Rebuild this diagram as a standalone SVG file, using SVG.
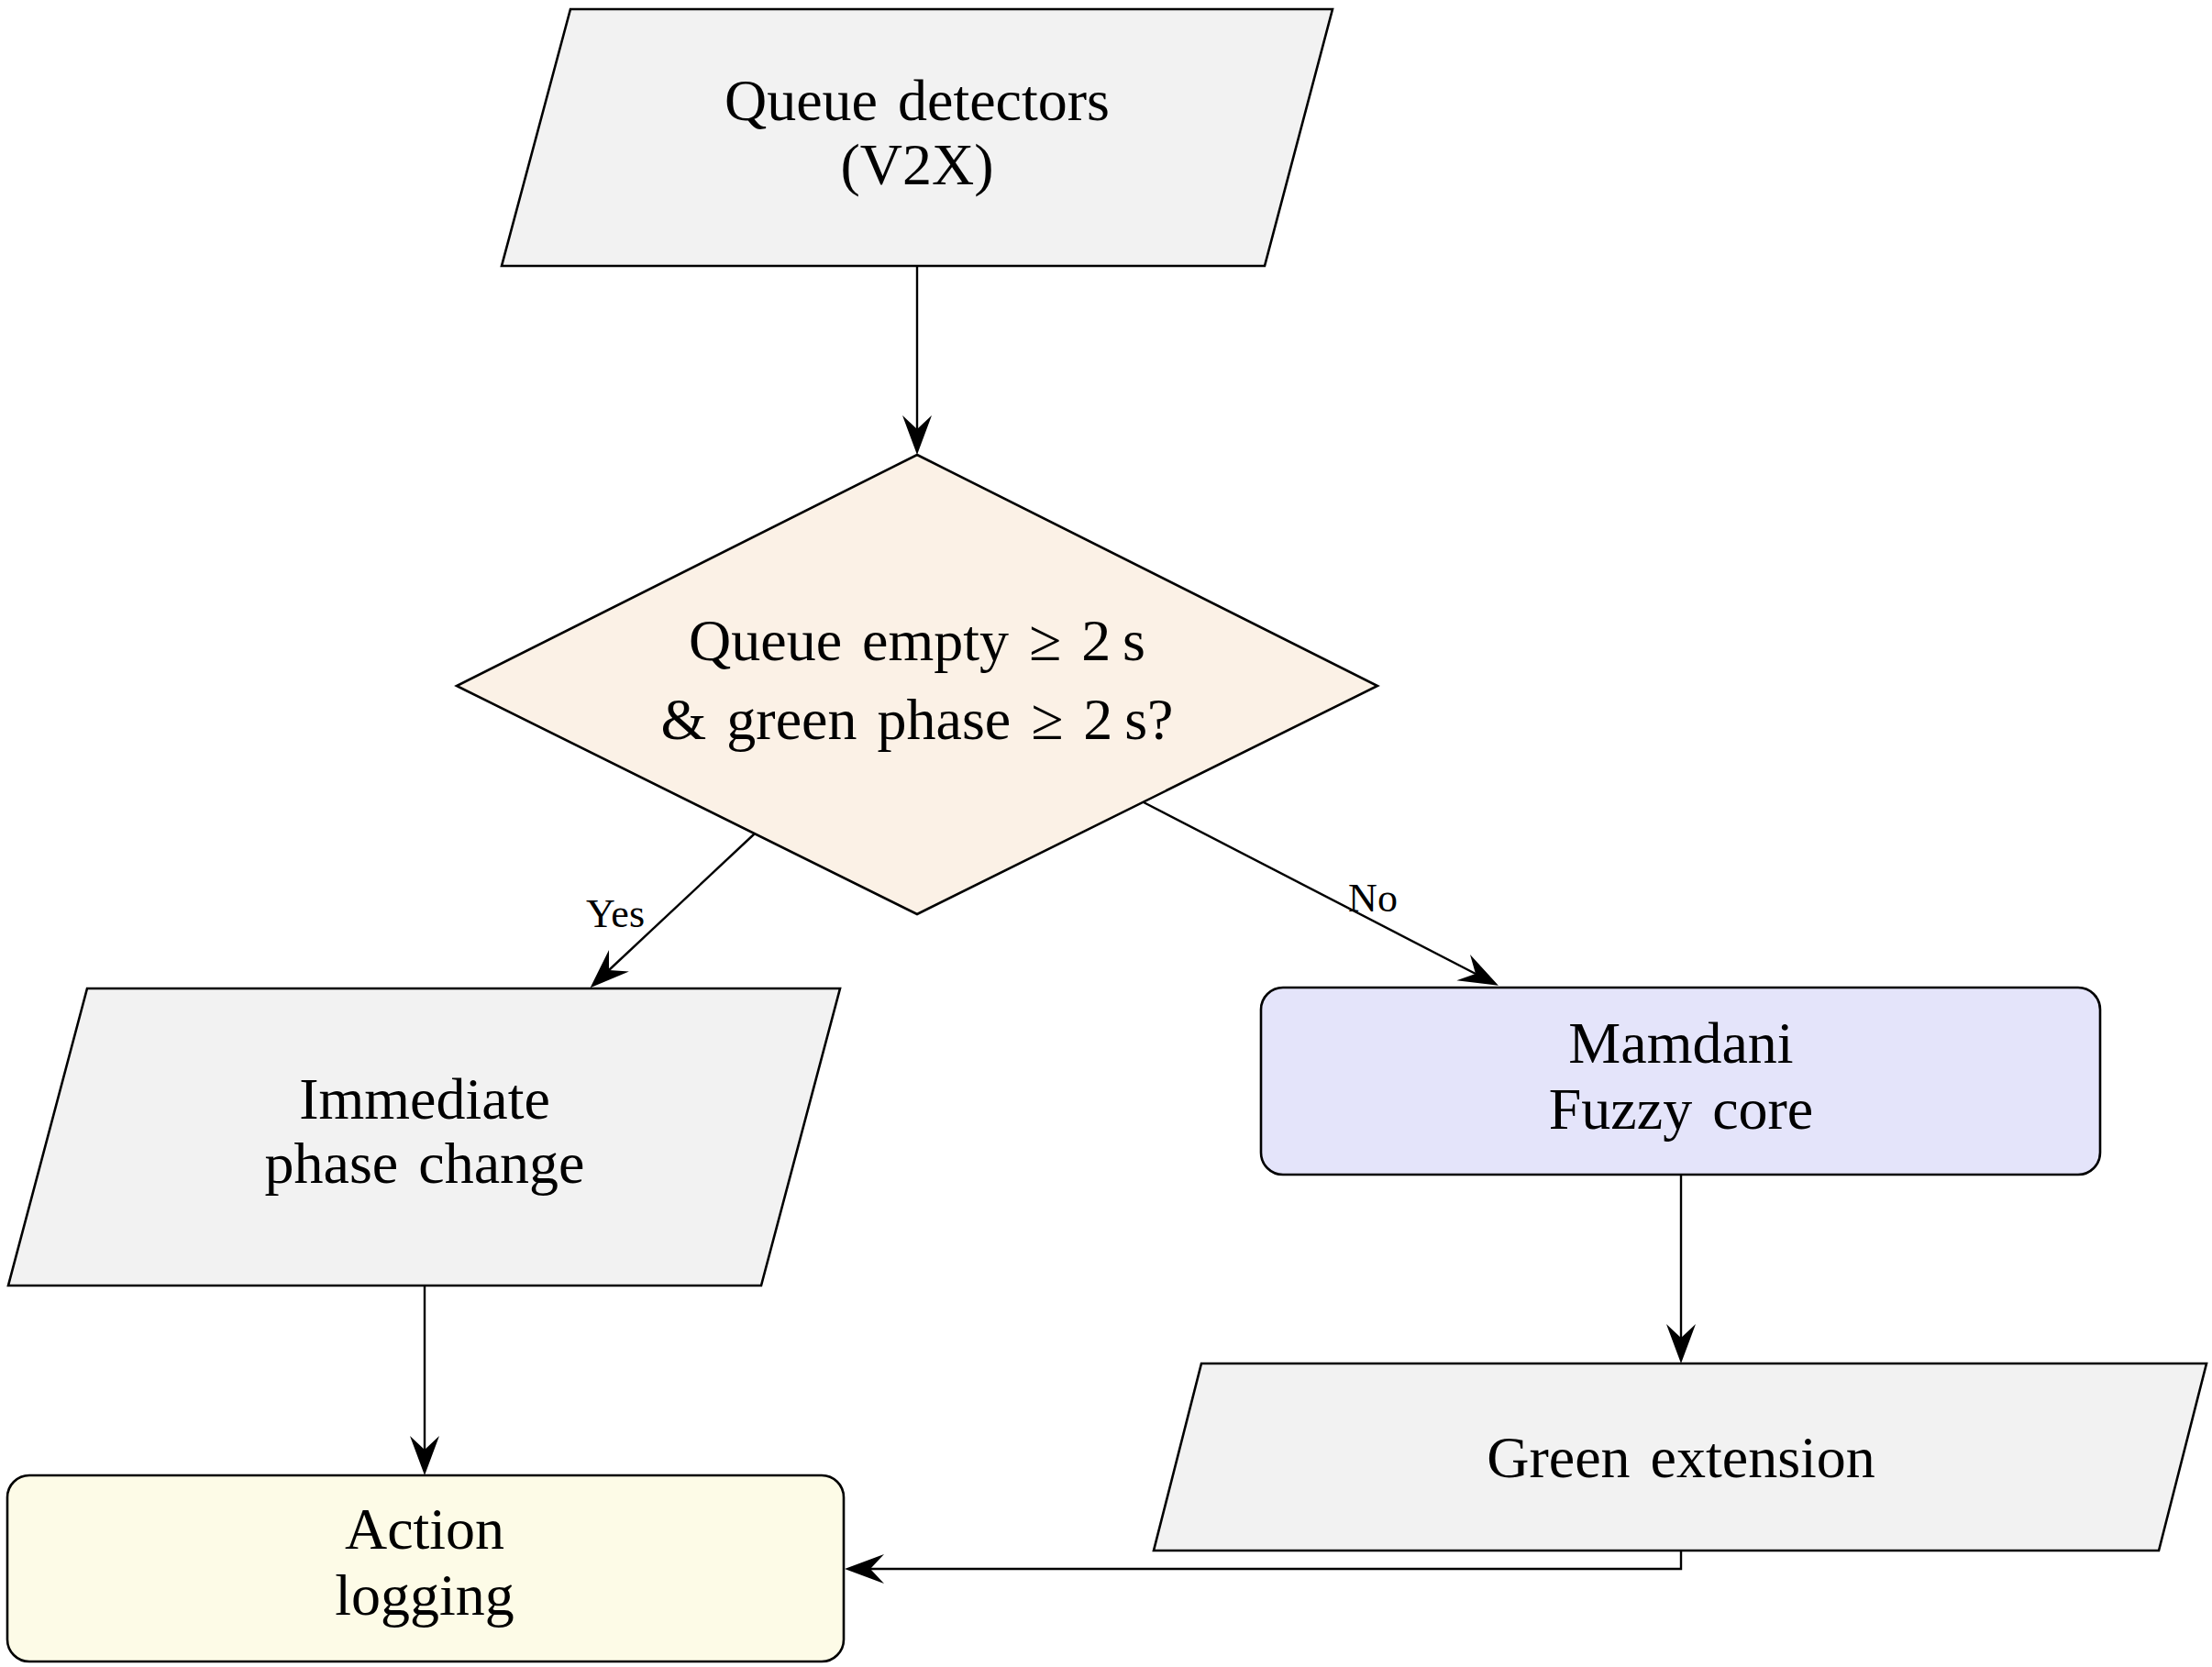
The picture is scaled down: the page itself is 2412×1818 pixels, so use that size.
<svg xmlns="http://www.w3.org/2000/svg" width="2412" height="1818" viewBox="0 0 2412 1818">
<defs>
<marker id="arr" markerUnits="userSpaceOnUse" markerWidth="44" markerHeight="34" viewBox="0 0 44 32" refX="15" refY="16" orient="auto">
<path d="M43,16 L0,0 L15,16 L0,32 Z" fill="#000"/>
</marker>
<style>
.node{stroke:#000;stroke-width:2.6;stroke-linejoin:miter}
.io{fill:#f2f2f2}
.dec{fill:#fbf1e6}
.proc{fill:#e4e4fa}
.log{fill:#fdfbe7}
.t{font-family:"Liberation Serif","Times New Roman",serif;font-size:64px;fill:#000;text-anchor:middle}
.lbl{font-family:"Liberation Serif","Times New Roman",serif;font-size:44px;fill:#000;text-anchor:middle}
.c{fill:none;stroke:#000;stroke-width:2.4;marker-end:url(#arr)}
</style>
</defs>
<rect width="2412" height="1818" fill="#fff"/>
<g id="connectors">
<path class="c" d="M1000,290 L1000,468"/>
<path class="c" d="M823,909 L664,1058"/>
<path class="c" d="M1247,875 L1609,1062"/>
<path class="c" d="M463,1402 L463,1581"/>
<path class="c" d="M1833,1281 L1833,1459"/>
<path class="c" d="M1833,1691 L1833,1711 L949,1711"/>
<text class="lbl" x="671" y="1011">Yes</text>
<text class="lbl" x="1497" y="994">No</text>
</g>
<g id="queue-detectors">
<polygon class="node io" points="622,10 1453,10 1379,290 547,290"/>
<text class="t" x="1000" y="131" word-spacing="6">Queue detectors</text>
<text class="t" x="1000" y="201">(V2X)</text>
</g>
<g id="decision">
<polygon class="node dec" points="1000,496 1502,748 1000,997 498,748"/>
<text class="t" x="1000" y="720" word-spacing="6">Queue empty ≥ 2&#8201;s</text>
<text class="t" x="1000" y="806" word-spacing="6">&amp; green phase ≥ 2&#8201;s?</text>
</g>
<g id="immediate-phase-change">
<polygon class="node io" points="95,1078 916,1078 830,1402 9,1402"/>
<text class="t" x="463" y="1220">Immediate</text>
<text class="t" x="463" y="1290" word-spacing="6">phase change</text>
</g>
<g id="mamdani">
<rect class="node proc" x="1375" y="1077" width="915" height="204" rx="24" ry="24"/>
<text class="t" x="1833" y="1159">Mamdani</text>
<text class="t" x="1833" y="1231" word-spacing="6">Fuzzy core</text>
</g>
<g id="green-extension">
<polygon class="node io" points="1310,1487 2406,1487 2354,1691 1258,1691"/>
<text class="t" x="1833" y="1611" word-spacing="6">Green extension</text>
</g>
<g id="action-logging">
<rect class="node log" x="8" y="1609" width="912" height="203" rx="24" ry="24"/>
<text class="t" x="463" y="1689">Action</text>
<text class="t" x="463" y="1761">logging</text>
</g>
</svg>
